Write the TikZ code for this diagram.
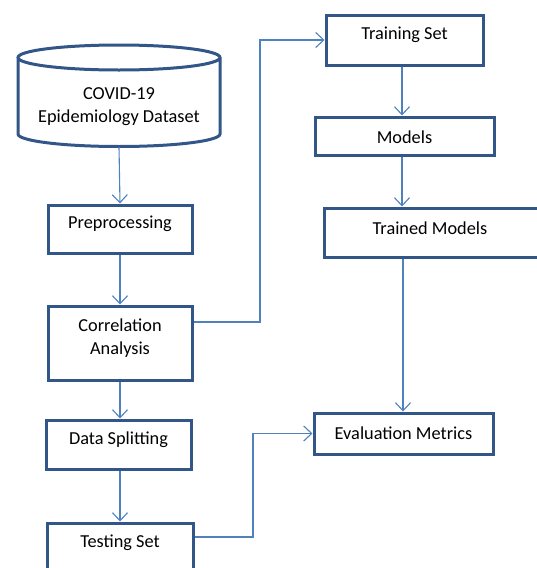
\documentclass[tikz,border=0pt]{standalone}
\usepackage{fontspec}
\setmainfont{Carlito}
\usetikzlibrary{arrows.meta}
\definecolor{boxblue}{RGB}{50,86,136}
\definecolor{linkblue}{RGB}{79,129,189}
\tikzset{
  stepbox/.style={draw=boxblue, line width=3pt, fill=white, inner sep=0pt},
  lbl/.style={font=\fontsize{18.3}{23}\selectfont, align=center, inner sep=0pt},
  link/.style={draw=linkblue, line width=1.1pt, -{Straight Barb[length=8pt,width=15pt,line width=1.1pt]}}
}
\begin{document}
\begin{tikzpicture}[x=1pt,y=-1pt]
\clip (0,0) rectangle (537,568);
\useasboundingbox (0,0) rectangle (537,568);
% cylinder
\draw[boxblue, line width=3pt, fill=white]
  (18,57.5) -- (18,134) arc[start angle=180, end angle=360, x radius=101, y radius=-12.5]
  -- (220,57.5) arc[start angle=0, end angle=360, x radius=101, y radius=-12.5];
\node[lbl] (data) at (119,107) {COVID-19\\Epidemiology Dataset};
\coordinate (dataB) at (119,147);
% left column
\node[stepbox, minimum width=144pt, minimum height=48pt] (pre) at (120,229) {};
\node[lbl] (prelbl) at (120,224) {Preprocessing};
\node[stepbox, minimum width=144pt, minimum height=74pt] (corr) at (120,343) {};
\node[lbl] (corrlbl) at (120,338.5) {Correlation\\Analysis};
\node[stepbox, minimum width=145pt, minimum height=49pt] (split) at (118.5,444.5) {};
\node[lbl] (splitlbl) at (118.5,440) {Data Splitting};
\node[stepbox, minimum width=146pt, minimum height=52pt] (test) at (120,549) {};
\node[lbl] (testlbl) at (120,543) {Testing Set};
% right column
\node[stepbox, minimum width=157pt, minimum height=50pt] (train) at (404.5,40) {};
\node[lbl] (trainlbl) at (404.5,35) {Training Set};
\node[stepbox, minimum width=179pt, minimum height=38pt] (models) at (404.5,136) {};
\node[lbl] (modelslbl) at (404.5,137) {Models};
\node[stepbox, minimum width=216pt, minimum height=49pt, anchor=west] (trained) at (323,232.5) {};
\node[lbl] (trainedlbl) at (430,228) {Trained Models};
\node[stepbox, minimum width=179pt, minimum height=41pt] (eval) at (403.5,433.5) {};
\node[lbl] (evallbl) at (403.5,433) {Evaluation Metrics};
% connectors
\draw[link] (dataB) -- (pre.north);
\draw[link] (pre.south) -- (corr.north);
\draw[link] (corr.south) -- (split.north -| corr.south);
\draw[link] (split.south -| test.north) -- (test.north);
\draw[link] (train.south -| 402,0) -- (models.north -| 402,0);
\draw[link] (models.south -| 402,0) -- (trained.north -| 402,0);
\draw[link] (trained.south -| 403,0) -- (eval.north -| 403,0);
\coordinate (c1) at (260,322);
\draw[link] (corr.east |- c1) -- (c1) -- (c1 |- train.west) -- (train.west);
\coordinate (c2) at (253,537);
\draw[link] (test.east |- c2) -- (c2) -- (c2 |- eval.west) -- (eval.west);
\end{tikzpicture}
\end{document}
